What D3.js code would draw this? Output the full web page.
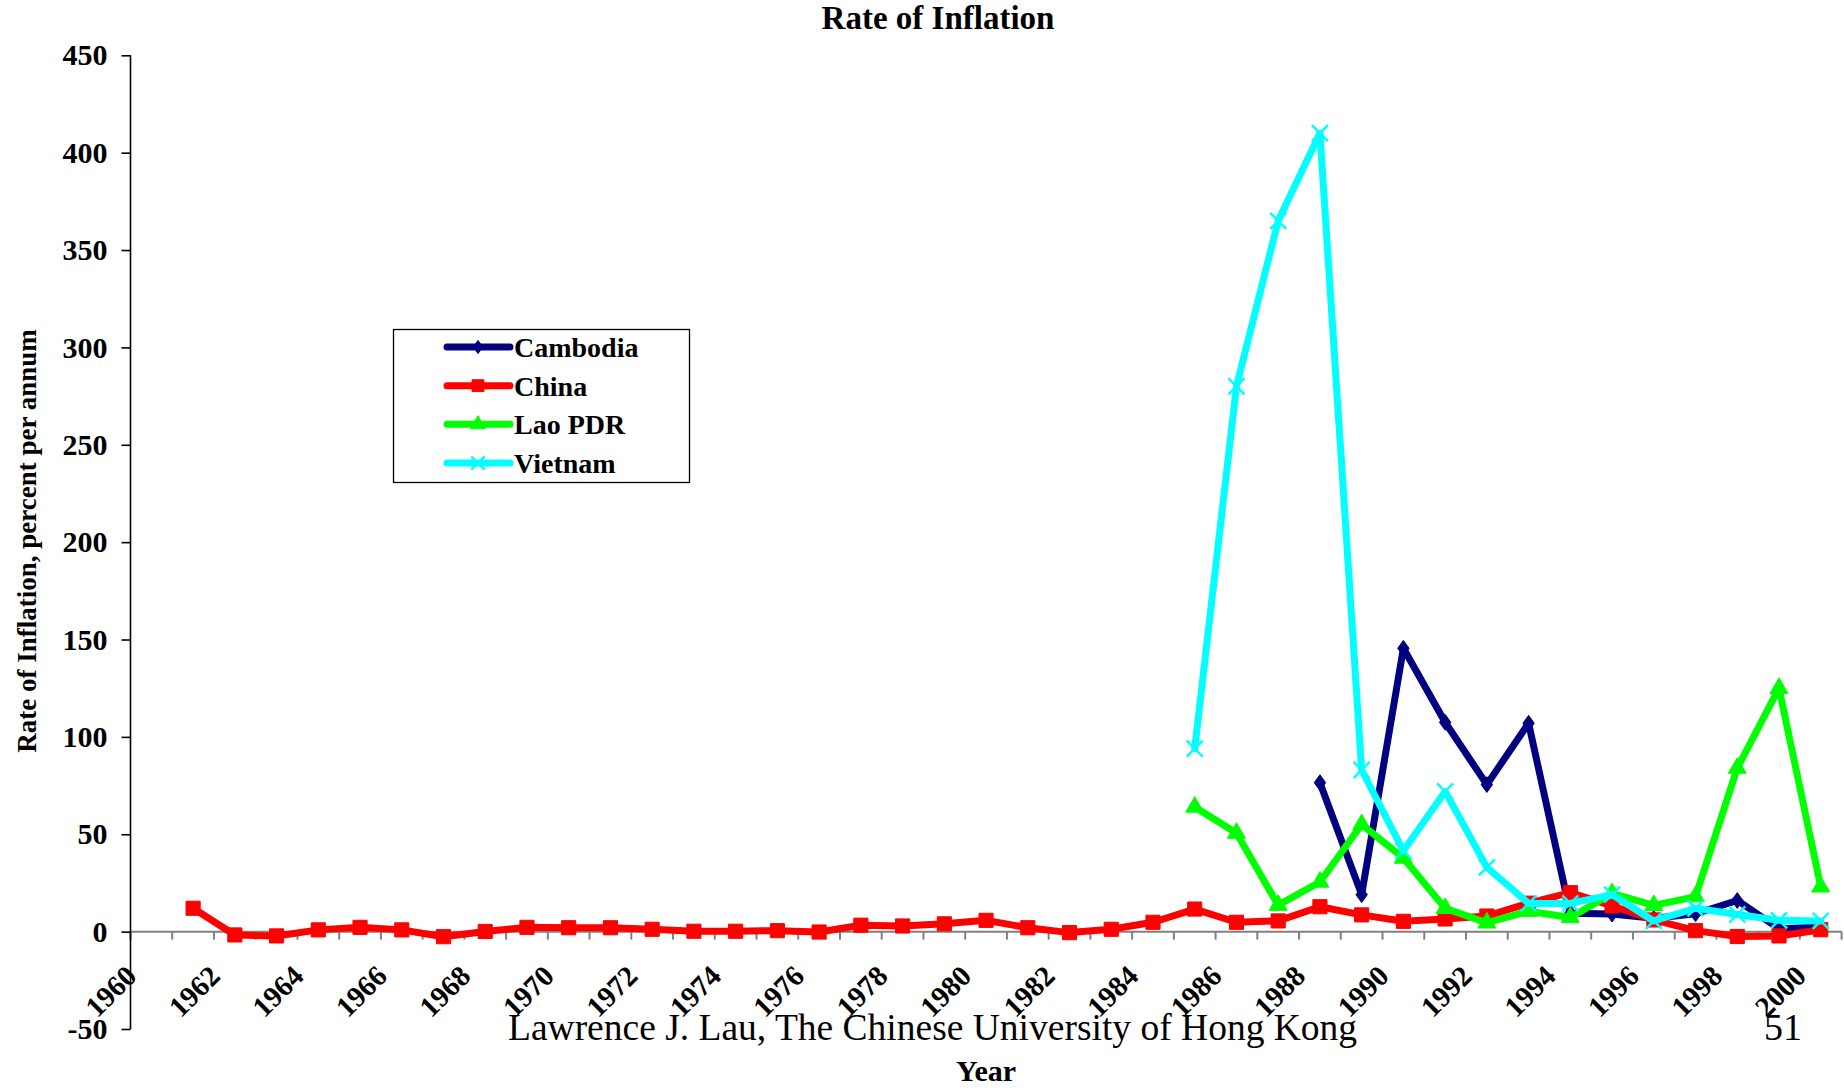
<!DOCTYPE html>
<html><head><meta charset="utf-8">
<script src="https://cdn.jsdelivr.net/npm/d3@7"></script>
<style>
body{margin:0;background:#fff}
svg{display:block}
text{font-family:"Liberation Serif","Times New Roman",serif;fill:#000}
</style>
</head><body>
<svg id="chart" width="1844" height="1088"></svg>
<script>
// ---- data ----
const years = [1960,1961,1962,1963,1964,1965,1966,1967,1968,1969,1970,1971,1972,1973,1974,1975,1976,1977,1978,1979,1980,1981,1982,1983,1984,1985,1986,1987,1988,1989,1990,1991,1992,1993,1994,1995,1996,1997,1998,1999,2000];
const seriesNames = ["Cambodia","China","Lao PDR","Vietnam"];
const cambodia = [null,null,null,null,null,null,null,null,null,null,null,null,null,null,null,null,null,null,null,null,null,null,null,null,null,null,null,null,
  76.5,19,145.5,107.5,75.5,107,9.5,9,6.8,9.2,16,1.5,2.2];
const china = [null,12.0,-1.7,-2.2,0.9,2.2,0.9,-2.6,0.1,2.2,2.0,2.0,1.2,0.2,0.2,0.5,-0.2,3.3,2.9,4.0,5.8,2.0,-0.5,1.2,4.8,11.6,4.8,5.5,12.8,8.6,5.3,6.5,8.0,14.6,20.0,13.2,6.0,0.5,-2.5,-2.2,1.0];
const lao = [null,null,null,null,null,null,null,null,null,null,null,null,null,null,null,null,null,null,null,null,null,null,null,null,null,
  64,50.6,13.6,25.5,55,37.8,12,4.5,10.5,7.3,19.6,13.5,18,84,125,23];
const vietnam = [null,null,null,null,null,null,null,null,null,null,null,null,null,null,null,null,null,null,null,null,null,null,null,null,null,
  94,280,365,410,83,41.5,72,33,14.5,14.5,19,5.5,12,8.8,5.8,5.5];
const yTickValues = [-50,0,50,100,150,200,250,300,350,400,450];
const xTickLabels = [1960,1962,1964,1966,1968,1970,1972,1974,1976,1978,1980,1982,1984,1986,1988,1990,1992,1994,1996,1998,2000];
const titleText = "Rate of Inflation";
const yTitle = "Rate of Inflation, percent per annum";
const xTitle = "Year";
const footerText = "Lawrence J. Lau, The Chinese University of Hong Kong";
const pageNo = "51";

// ---- layout ----
const svg = d3.select("#chart");
const L = 130.5, R = 1841.6, T = 55.3, B = 1029;
const x = d3.scaleBand().domain(years).range([L, R]);
const y = d3.scaleLinear().domain([-50, 450]).range([B, T]);
const cx = d => x(d) + x.bandwidth() / 2;

// custom diamond (square rotated 45deg, slightly tall)
const diamond = { draw(ctx, size) { const r = Math.sqrt(size) / 2; ctx.moveTo(0, -r * 1.25); ctx.lineTo(r * 0.9, 0); ctx.lineTo(0, r * 1.25); ctx.lineTo(-r * 0.9, 0); ctx.closePath(); } };

const series = [
  { name: seriesNames[0], values: cambodia, color: "#000080", sym: diamond, size: 160, stroke: false },
  { name: seriesNames[1], values: china, color: "#FF0000", sym: d3.symbolSquare, size: 200, stroke: false },
  { name: seriesNames[2], values: lao, color: "#00FF00", sym: d3.symbolTriangle, size: 140, stroke: false },
  { name: seriesNames[3], values: vietnam, color: "#00FFFF", sym: d3.symbolX, size: 170, stroke: true }
];

// ---- axes ----
svg.append("line").attr("x1", L).attr("x2", R).attr("y1", y(0)).attr("y2", y(0))
  .attr("stroke", "#808080").attr("stroke-width", 2);
const bounds = years.map(d => x(d)).concat([x(years[years.length - 1]) + x.bandwidth()]);
svg.append("g").selectAll("line").data(bounds).join("line")
  .attr("x1", d => d).attr("x2", d => d).attr("y1", y(0)).attr("y2", y(0) + 8)
  .attr("stroke", "#808080").attr("stroke-width", 2);
const xAxis = svg.append("g").attr("transform", `translate(0,${y(0)})`)
  .call(d3.axisBottom(x).tickValues(xTickLabels).tickSize(0).tickPadding(0));
xAxis.select(".domain").remove();
xAxis.selectAll("text")
  .attr("x", 0).attr("y", 0).attr("dy", null)
  .attr("text-anchor", "end")
  .attr("transform", "translate(-13,46) rotate(-45)")
  .style("font-family", '"Liberation Serif","Times New Roman",serif')
  .style("font-weight", "bold").style("font-size", "29px").attr("fill", "#000");

const yAxis = svg.append("g").attr("transform", `translate(${L},0)`)
  .call(d3.axisLeft(y).tickValues(yTickValues).tickSize(9).tickPadding(14).tickFormat(d => String(d)));
yAxis.select(".domain").attr("stroke", "#000").attr("stroke-width", 1.6).attr("d", `M0,${B}V${T}`);
yAxis.selectAll(".tick line").attr("stroke", "#000").attr("stroke-width", 1.6);
yAxis.selectAll("text")
  .style("font-family", '"Liberation Serif","Times New Roman",serif')
  .style("font-weight", "bold").style("font-size", "30px").attr("fill", "#000");

// ---- series ----
const line = d3.line().defined(d => d.v != null).x(d => cx(d.year)).y(d => y(d.v));
series.forEach(s => {
  const pts = years.map((yr, i) => ({ year: yr, v: s.values[i] }));
  const g = svg.append("g");
  g.append("path").attr("d", line(pts)).attr("fill", "none")
    .attr("stroke", s.color).attr("stroke-width", 7).attr("stroke-linejoin", "round").attr("stroke-linecap", "round");
  g.selectAll("path.m").data(pts.filter(d => d.v != null)).join("path").attr("class", "m")
    .attr("transform", d => `translate(${cx(d.year)},${y(d.v)})`)
    .attr("d", d3.symbol().type(s.sym).size(s.size))
    .attr("fill", s.stroke ? "none" : s.color)
    .attr("stroke", s.color).attr("stroke-width", s.stroke ? 2.5 : 1);
});

// ---- legend ----
const lg = svg.append("g");
lg.append("rect").attr("x", 393.5).attr("y", 329.5).attr("width", 296).attr("height", 153)
  .attr("fill", "#fff").attr("stroke", "#000").attr("stroke-width", 1.3);
const rowY = d3.scalePoint().domain(seriesNames).range([347, 463]);
series.forEach(s => {
  const yy = rowY(s.name);
  lg.append("line").attr("x1", 447).attr("x2", 510).attr("y1", yy).attr("y2", yy)
    .attr("stroke", s.color).attr("stroke-width", 7).attr("stroke-linecap", "round");
  lg.append("path").attr("transform", `translate(478,${yy})`)
    .attr("d", d3.symbol().type(s.sym).size(s.size * 0.7))
    .attr("fill", s.stroke ? "none" : s.color).attr("stroke", s.color).attr("stroke-width", s.stroke ? 2.5 : 1);
  lg.append("text").attr("x", 514).attr("y", yy).attr("dy", "0.36em")
    .style("font-weight", "bold").style("font-size", "28px").text(s.name);
});

// ---- titles ----
svg.append("text").attr("x", 938).attr("y", 29).attr("text-anchor", "middle")
  .style("font-weight", "bold").style("font-size", "33px").text(titleText);
svg.append("text").attr("transform", "translate(36,541) rotate(-90)").attr("text-anchor", "middle")
  .style("font-weight", "bold").style("font-size", "27px").text(yTitle);
svg.append("text").attr("x", (L + R) / 2).attr("y", 1081).attr("text-anchor", "middle")
  .style("font-weight", "bold").style("font-size", "30px").text(xTitle);
svg.append("text").attr("x", 508).attr("y", 1040)
  .style("font-size", "37.5px").text(footerText);
svg.append("text").attr("x", 1764).attr("y", 1040)
  .style("font-size", "38px").text(pageNo);
</script>
</body></html>
